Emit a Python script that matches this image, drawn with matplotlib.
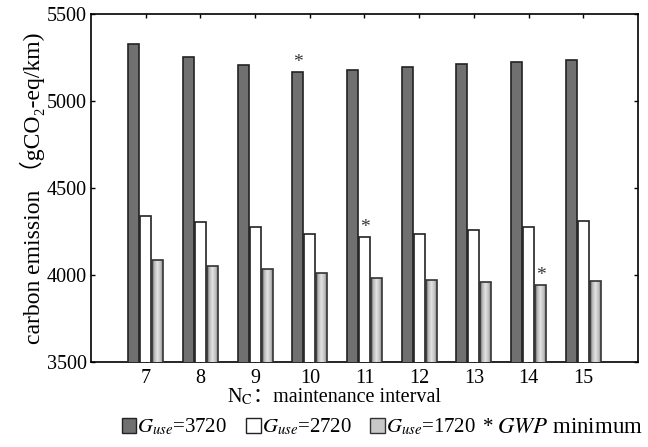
import matplotlib
matplotlib.use("Agg")
import matplotlib.pyplot as plt
import matplotlib.patches as mpatches
import numpy as np

plt.rcParams['font.family'] = ['Liberation Serif', 'Noto Sans CJK SC', 'DejaVu Sans']
plt.rcParams['mathtext.fontset'] = 'stix'

# data
intervals = [7, 8, 9, 10, 11, 12, 13, 14, 15]
g3720 = [5325, 5255, 5205, 5167, 5176, 5197, 5211, 5222, 5234]
g2720 = [4339, 4305, 4278, 4236, 4217, 4236, 4259, 4278, 4308]
g1720 = [4088, 4053, 4034, 4010, 3985, 3971, 3962, 3943, 3967]
series_labels = ['$G_{use}$=3720', '$G_{use}$=2720', '$G_{use}$=1720']
# where the GWP minimum stars sit: (series index, interval)
minimum_marks = [(0, 10), (1, 11), (2, 14)]

x = np.arange(len(intervals)) + intervals[0]
width = 0.2
step = 0.22

fig = plt.figure(figsize=(6.48, 4.47), dpi=100)
ax = fig.add_axes([0.1404, 0.1902, 0.8442, 0.7785])

bars_dark = ax.bar(x - step, g3720, width, color='#707070', edgecolor='#222222', linewidth=1.2, zorder=3)
bars_white = ax.bar(x, g2720, width, color='white', edgecolor='#222222', linewidth=1.2, zorder=3)
bars_gray = ax.bar(x + step, g1720, width, color='none', edgecolor='#333333', linewidth=1.2, zorder=4)

# light gradient fill for the G=1720 bars
grad = np.array([[0.55, 0.78, 0.88, 0.80, 0.65]])
for b in bars_gray:
    bx, by = b.get_x(), b.get_y()
    im = ax.imshow(grad, cmap='gray', vmin=0, vmax=1, aspect='auto', zorder=3,
                   extent=(bx, bx + b.get_width(), 3500, by + b.get_height()))
    im.set_clip_path(b)

groups = [bars_dark, bars_white, bars_gray]
for s, n in minimum_marks:
    b = groups[s][intervals.index(n)]
    ax.text(b.get_x() + b.get_width() / 2, b.get_height() + 5, '*',
            ha='center', va='bottom', fontsize=14, color='#333333')

ax.set_xlim(6, 16)
ax.set_ylim(3500, 5500)
ax.set_xticks(x)
ax.set_xticklabels([str(i) for i in intervals])
ax.set_yticks([3500, 4000, 4500, 5000, 5500])
ax.tick_params(direction='in', length=3, width=1, labelsize=14.5, top=True, right=True)
ax.tick_params(axis='x', pad=5)
ax.tick_params(axis='y', pad=3)
for sp in ax.spines.values():
    sp.set_linewidth(1.2)

ax.set_ylabel('carbon emission （gCO₂-eq/km)', fontsize=17, labelpad=1)

# x label: N_C needs mathtext, the full-width colon needs the CJK fallback
fig.text(0.39, 0.1, 'N$_\\mathrm{C}$', fontsize=14.5, ha='right', va='baseline')
fig.text(0.39, 0.1, '：maintenance interval', fontsize=14.5, ha='left', va='baseline')

handles = [
    mpatches.Patch(facecolor='#707070', edgecolor='#222222'),
    mpatches.Patch(facecolor='white', edgecolor='#222222'),
    mpatches.Patch(facecolor='#c8c8c8', edgecolor='#333333'),
]
fig.legend(handles, series_labels, loc='center left',
           bbox_to_anchor=(0.188, 0.044), ncol=3, frameon=False, fontsize=15,
           borderpad=0, borderaxespad=0,
           handlelength=0.7, handleheight=0.7, handletextpad=0.05, columnspacing=0.9)
fig.text(0.745, 0.044, '*', fontsize=15, ha='left', va='center')
fig.text(0.767, 0.044, '$GWP$ minimum', fontsize=16.5, ha='left', va='center')

fig.savefig('out.png', dpi=100)
